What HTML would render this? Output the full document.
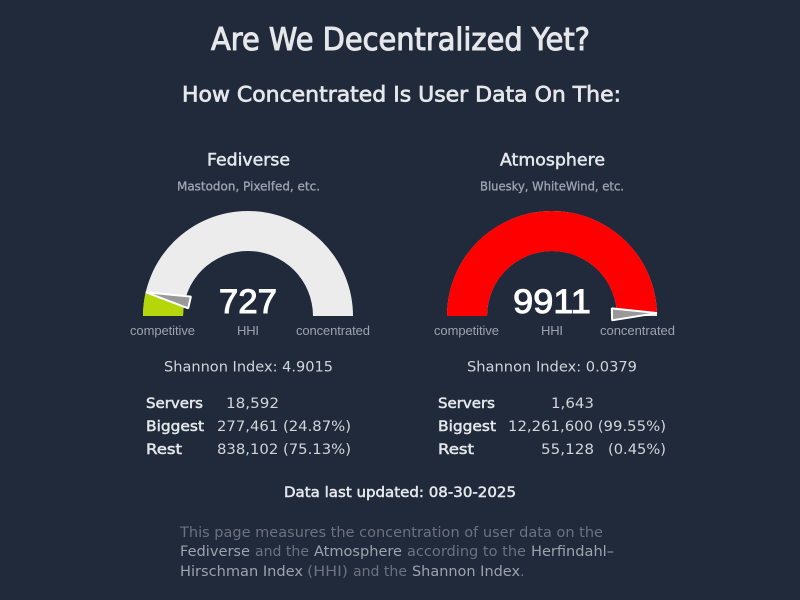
<!DOCTYPE html>
<html lang="en">
<head>
<meta charset="utf-8">
<title>Are We Decentralized Yet?</title>
<style>
html,body{margin:0;padding:0;width:800px;height:600px;background:#202a3a;overflow:hidden}
svg{display:block}
text{font-family:"DejaVu Sans",sans-serif}
.title{fill:#e5e7eb;stroke:#e5e7eb;stroke-width:1px}
.head{fill:#e5e7eb;stroke:#e5e7eb;stroke-width:.5px;font-size:17px}
.sub{fill:#9ca3af;stroke:#9ca3af;stroke-width:.35px;font-size:12px}
.lab{fill:#9ca3af;font-size:13px;font-family:"Liberation Sans",sans-serif}
.sh{fill:#d1d5db;font-size:14px}
.k{fill:#e5e7eb;stroke:#e5e7eb;stroke-width:.5px;font-size:14px}
.v{fill:#d1d5db;font-size:14px}
.p{fill:#6b7280;font-size:14px}
.a{fill:#9ca3af;font-size:14px}
</style>
</head>
<body>
<svg id="page" width="800" height="600" viewBox="0 0 800 600">
<text class="title" x="211" y="50" font-size="31" textLength="379" lengthAdjust="spacingAndGlyphs">Are We Decentralized Yet?</text>
<text class="title" x="182" y="101.5" font-size="21" textLength="439" lengthAdjust="spacingAndGlyphs" style="stroke-width:.7px">How Concentrated Is User Data On The:</text>

<text class="head" x="207" y="165.5" textLength="83" lengthAdjust="spacingAndGlyphs">Fediverse</text>
<text class="sub" x="177" y="190.5" textLength="143" lengthAdjust="spacingAndGlyphs">Mastodon, Pixelfed, etc.</text>
<text class="head" x="500" y="165.5" textLength="105" lengthAdjust="spacingAndGlyphs">Atmosphere</text>
<text class="sub" x="480" y="190.5" textLength="144" lengthAdjust="spacingAndGlyphs">Bluesky, WhiteWind, etc.</text>

<g id="gauges"></g>

<text class="lab" x="130" y="335" textLength="65">competitive</text>
<text class="lab" x="237" y="335" textLength="22">HHI</text>
<text class="lab" x="296" y="335" textLength="74">concentrated</text>
<text class="lab" x="434" y="335" textLength="65">competitive</text>
<text class="lab" x="541" y="335" textLength="22">HHI</text>
<text class="lab" x="600" y="335" textLength="75">concentrated</text>

<text class="sh" x="164" y="371.5" textLength="169" lengthAdjust="spacingAndGlyphs">Shannon Index: 4.9015</text>
<text class="sh" x="467" y="371.5" textLength="170" lengthAdjust="spacingAndGlyphs">Shannon Index: 0.0379</text>

<text class="k" x="146" y="408" textLength="57" lengthAdjust="spacingAndGlyphs">Servers</text>
<text class="v" x="226" y="408" textLength="53" lengthAdjust="spacingAndGlyphs">18,592</text>
<text class="k" x="146" y="431" textLength="58" lengthAdjust="spacingAndGlyphs">Biggest</text>
<text class="v" x="217" y="431" textLength="134" lengthAdjust="spacingAndGlyphs">277,461 (24.87%)</text>
<text class="k" x="146" y="454" textLength="36" lengthAdjust="spacingAndGlyphs">Rest</text>
<text class="v" x="217" y="454" textLength="134" lengthAdjust="spacingAndGlyphs">838,102 (75.13%)</text>

<text class="k" x="438" y="408" textLength="57" lengthAdjust="spacingAndGlyphs">Servers</text>
<text class="v" x="551" y="408" textLength="43" lengthAdjust="spacingAndGlyphs">1,643</text>
<text class="k" x="438" y="431" textLength="58" lengthAdjust="spacingAndGlyphs">Biggest</text>
<text class="v" x="508" y="431" textLength="158" lengthAdjust="spacingAndGlyphs">12,261,600 (99.55%)</text>
<text class="k" x="438" y="454" textLength="36" lengthAdjust="spacingAndGlyphs">Rest</text>
<text class="v" x="541" y="454" textLength="53" lengthAdjust="spacingAndGlyphs">55,128</text>
<text class="v" x="608" y="454" textLength="58" lengthAdjust="spacingAndGlyphs">(0.45%)</text>

<text class="k" x="284" y="497" textLength="232" lengthAdjust="spacingAndGlyphs">Data last updated: 08-30-2025</text>

<g>
<text class="p" x="180" y="537" textLength="423" lengthAdjust="spacingAndGlyphs">This page measures the concentration of user data on the</text>
<text class="a" x="180" y="556" textLength="70" lengthAdjust="spacingAndGlyphs">Fediverse</text>
<text class="p" x="255" y="556" textLength="54" lengthAdjust="spacingAndGlyphs">and the</text>
<text class="a" x="314" y="556" textLength="88" lengthAdjust="spacingAndGlyphs">Atmosphere</text>
<text class="p" x="407" y="556" textLength="119" lengthAdjust="spacingAndGlyphs">according to the</text>
<text class="a" x="531" y="556" textLength="83" lengthAdjust="spacingAndGlyphs">Herfindahl–</text>
<text class="a" x="180" y="576" textLength="123" lengthAdjust="spacingAndGlyphs">Hirschman Index</text>
<text class="p" x="307" y="576" textLength="41" lengthAdjust="spacingAndGlyphs">(HHI)</text>
<text class="p" x="353" y="576" textLength="54" lengthAdjust="spacingAndGlyphs">and the</text>
<text class="a" x="412" y="576" textLength="108" lengthAdjust="spacingAndGlyphs">Shannon Index</text>
<text class="p" x="520" y="576">.</text>
</g>
</svg>
<script>
var gaugeNames = ['fediverse', 'atmosphere'];
var hhiValues = [727, 9911];
var hhiMax = 10000;

var NS = 'http://www.w3.org/2000/svg';
var root = document.getElementById('gauges');
var gaugeCenters = { fediverse: 248, atmosphere: 552 };
var cy = 316, outerR = 105, innerR = 65;

function angleOf(v) { return Math.PI * (1 - v / hhiMax); }
function px(cx, r, a) { return cx + r * Math.cos(a); }
function py(r, a) { return cy - r * Math.sin(a); }
function fmt(n) { return n.toFixed(2); }
function sector(cx, a0, a1) {
  return 'M' + fmt(px(cx, outerR, a0)) + ' ' + fmt(py(outerR, a0)) +
    ' A' + outerR + ' ' + outerR + ' 0 0 1 ' + fmt(px(cx, outerR, a1)) + ' ' + fmt(py(outerR, a1)) +
    ' L' + fmt(px(cx, innerR, a1)) + ' ' + fmt(py(innerR, a1)) +
    ' A' + innerR + ' ' + innerR + ' 0 0 0 ' + fmt(px(cx, innerR, a0)) + ' ' + fmt(py(innerR, a0)) + ' Z';
}
function colorOf(v) { return v / hhiMax > 0.25 ? '#ff0000' : '#b5d60a'; }

gaugeNames.forEach(function (name, i) {
  var v = hhiValues[i];
  var cx = gaugeCenters[name];
  var a = angleOf(v);

  var bg = document.createElementNS(NS, 'path');
  
  
  bg.setAttribute('d', sector(cx, Math.PI, 0));
  bg.setAttribute('fill', '#ececec');
  root.appendChild(bg);

  var fill = document.createElementNS(NS, 'path');
  
  
  fill.setAttribute('d', sector(cx, Math.PI, a));
  fill.setAttribute('fill', colorOf(v));
  root.appendChild(fill);

  var tipR = 105, baseR = 60, halfW = 6;
  var bx = px(cx, baseR, a), by = py(baseR, a);
  var nx = Math.sin(a) * halfW, ny = Math.cos(a) * halfW;
  var needle = document.createElementNS(NS, 'polygon');
  
  
  needle.setAttribute('points',
    fmt(px(cx, tipR, a)) + ',' + fmt(py(tipR, a)) + ' ' +
    fmt(bx + nx) + ',' + fmt(by + ny) + ' ' +
    fmt(bx - nx) + ',' + fmt(by - ny));
  needle.setAttribute('fill', '#999999');
  needle.setAttribute('stroke', '#ffffff');
  needle.setAttribute('stroke-width', '2');
  needle.setAttribute('stroke-linejoin', 'bevel');
  root.appendChild(needle);

  var label = document.createElementNS(NS, 'text');
  
  
  label.setAttribute('x', cx - 19.4 * String(v).length / 2);
  label.setAttribute('y', 313);
  label.setAttribute('font-size', '34');
  label.setAttribute('fill', '#ffffff');
  label.setAttribute('stroke', '#ffffff');
  label.setAttribute('stroke-width', '1');
  label.setAttribute('style', 'font-family:"Liberation Sans",sans-serif');
  label.setAttribute('textLength', 19.4 * String(v).length);
  label.setAttribute('lengthAdjust', 'spacingAndGlyphs');
  label.textContent = String(v);
  root.appendChild(label);
});
</script>
</body>
</html>
